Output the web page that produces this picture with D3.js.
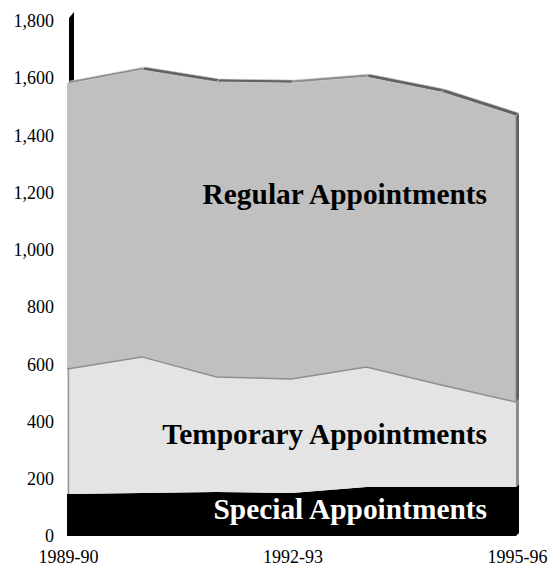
<!DOCTYPE html>
<html>
<head>
<meta charset="utf-8">
<script src="https://cdn.jsdelivr.net/npm/d3@7"></script>
<style>
  html, body { margin: 0; padding: 0; background: #fff; }
  svg { display: block; }
</style>
</head>
<body>
<svg id="chart" width="549" height="571"></svg>
<script>
const categories = ["1989-90", "1990-91", "1991-92", "1992-93", "1993-94", "1994-95", "1995-96"];
const special   = [147, 150, 154, 150, 171, 171, 171];
const temporary = [437, 476, 402, 399, 420, 357, 297];
const regular   = [996, 1003, 1031, 1034, 1013, 1024, 1000];
const yTicks = [0, 200, 400, 600, 800, 1000, 1200, 1400, 1600, 1800];
const xTickLabels = ["1989-90", "1992-93", "1995-96"];
const seriesNames = ["Special Appointments", "Temporary Appointments", "Regular Appointments"];

const rows = categories.map((c, i) => ({
  cat: c,
  special: special[i],
  temporary: temporary[i],
  regular: regular[i]
}));
const keys = ["special", "temporary", "regular"];
const stacked = d3.stack().keys(keys)(rows);

const svg = d3.select("#chart");
const x = d3.scalePoint().domain(categories).range([67, 516]);
const y = d3.scaleLinear().domain([0, 1800]).range([536, 21]);
const dx = 3, dy = -3;

const fills = { special: "#000000", temporary: "#e4e4e4", regular: "#c0c0c0" };
const sideFills = { special: "#000000", temporary: "#8c8c8c", regular: "#5e5e5e" };
const serif = "'Liberation Serif', 'Times New Roman', serif";

// back wall left edge (black bar above plot area)
const x0 = x(categories[0]);
const topTotal = stacked[2][0][1];
svg.append("path")
  .attr("d", `M${x0 + 2},${y(1800) - 3} L${x0 + 7},${y(1800) - 9} L${x0 + 7},${y(topTotal) - 4} L${x0 + 2},${y(topTotal) + 1} Z`)
  .attr("fill", "#000");

// side faces (right)
const xr = x(categories[categories.length - 1]);
stacked.forEach(layer => {
  const last = layer[layer.length - 1];
  const yt = y(last[1]), yb = y(last[0]);
  svg.append("path")
    .attr("d", `M${xr},${yt} L${xr + dx},${yt + dy} L${xr + dx},${yb + dy} L${xr},${yb} Z`)
    .attr("fill", sideFills[layer.key]);
});

// top face of the topmost layer, segment by segment
const topLayer = stacked[2];
for (let i = 0; i < topLayer.length - 1; i++) {
  const xa = x(categories[i]), xb = x(categories[i + 1]);
  const ya = y(topLayer[i][1]), yb = y(topLayer[i + 1][1]);
  const rising = yb < ya;
  svg.append("path")
    .attr("d", `M${xa},${ya} L${xb},${yb} L${xb + dx},${yb + dy} L${xa + dx},${ya + dy} Z`)
    .attr("fill", rising ? "#8a8a8a" : "#626262")
    .attr("stroke", "#d6d6d6")
    .attr("stroke-width", 0.6);
}

// front faces
const area = d3.area()
  .x((d, i) => x(categories[i]))
  .y0(d => y(d[0]))
  .y1(d => y(d[1]));

svg.append("g").selectAll("path")
  .data(stacked)
  .join("path")
  .attr("d", area)
  .attr("fill", d => fills[d.key]);

// boundary line between regular and temporary
const line = d3.line()
  .x((d, i) => x(categories[i]))
  .y(d => y(d[1]));
svg.append("path")
  .attr("d", line(stacked[1]))
  .attr("fill", "none")
  .attr("stroke", "#8e8e8e")
  .attr("stroke-width", 1.5);

// left edge line on temporary area
svg.append("line")
  .attr("x1", x0 + 1.5).attr("x2", x0 + 1.5)
  .attr("y1", y(stacked[1][0][1]))
  .attr("y2", y(stacked[0][0][1]))
  .attr("stroke", "#9a9a9a")
  .attr("stroke-width", 1.5);

// right front edge of regular
svg.append("line")
  .attr("x1", xr).attr("x2", xr)
  .attr("y1", y(stacked[2][6][1]))
  .attr("y2", y(stacked[1][6][1]))
  .attr("stroke", "#8e8e8e")
  .attr("stroke-width", 1);

// Y axis
const yAxis = d3.axisLeft(y)
  .tickValues(yTicks)
  .tickFormat(d3.format(","))
  .tickSize(0)
  .tickPadding(13);
const gy = svg.append("g").attr("transform", `translate(${x0},0)`).call(yAxis);
gy.select(".domain").remove();
gy.selectAll("text")
  .attr("font-family", serif)
  .attr("font-size", 18)
  .attr("fill", "#000");

// X axis
const xAxis = d3.axisBottom(x)
  .tickValues(xTickLabels)
  .tickSize(0)
  .tickPadding(14);
const gx = svg.append("g").attr("transform", `translate(1,${y(0)})`).call(xAxis);
gx.select(".domain").remove();
gx.selectAll("text")
  .attr("font-family", serif)
  .attr("font-size", 18)
  .attr("fill", "#000");

// Series labels
const labelPos = [
  { name: seriesNames[2], yv: 1162, color: "#000" },
  { name: seriesNames[1], yv: 322, color: "#000" },
  { name: seriesNames[0], yv: 59, color: "#fff" }
];
svg.append("g").selectAll("text")
  .data(labelPos)
  .join("text")
  .attr("x", 487)
  .attr("y", d => y(d.yv))
  .attr("text-anchor", "end")
  .attr("font-family", serif)
  .attr("font-weight", "bold")
  .attr("font-size", 29.4)
  .attr("fill", d => d.color)
  .text(d => d.name);
</script>
</body>
</html>
